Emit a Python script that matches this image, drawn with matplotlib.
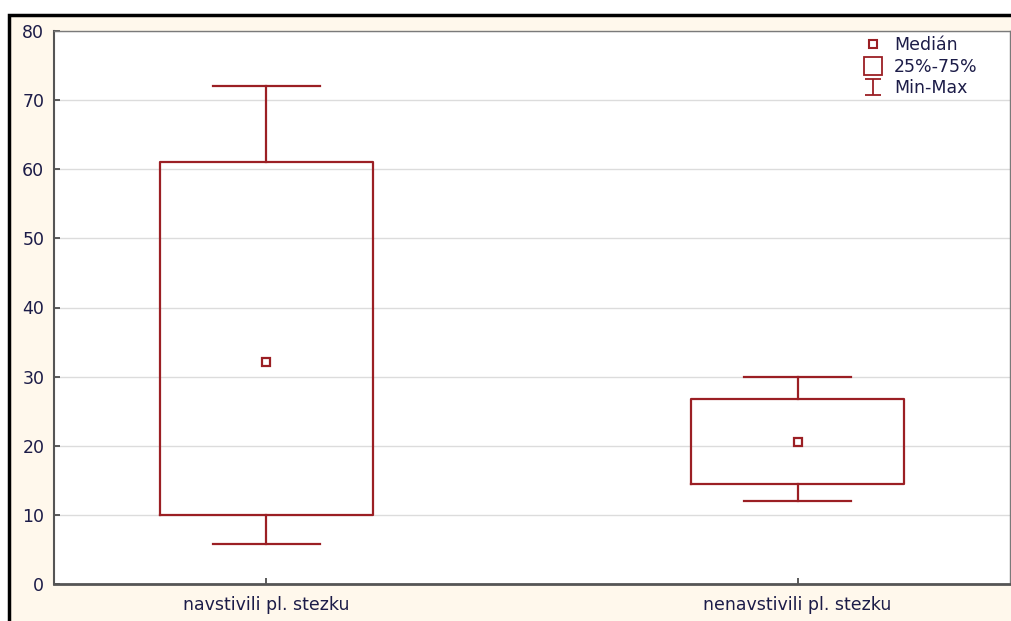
import matplotlib.pyplot as plt
from matplotlib.lines import Line2D
from matplotlib.patches import Rectangle
from matplotlib.path import Path

plt.rcParams['font.family'] = ['DejaVu Sans']

# box plot data (median, quartiles, min/max)
groups = ['navstivili pl. stezku', 'nenavstivili pl. stezku']
medians = [32.1, 20.5]
q25 = [10, 14.5]
q75 = [61, 26.8]
mins = [5.8, 12]
maxs = [72, 30]

box_color = '#9b1f24'
text_color = '#1c1c48'
back_color = '#fff8ec'

fig = plt.figure(figsize=(10.11, 6.21), dpi=100, facecolor='white')

# cream panel with a black frame on the top/left
panel = Rectangle((8.5 / 1011, -0.05), 1.1, (621 - 14.5) / 621 + 0.05,
                  transform=fig.transFigure, facecolor=back_color,
                  edgecolor='black', linewidth=2.5, zorder=-10)
fig.patches.append(panel)

ax = fig.add_axes([54 / 1011, 37 / 621, (1010 - 54) / 1011, (584 - 31) / 621])
ax.set_facecolor('white')

stats = []
for i in range(len(groups)):
    stats.append({'med': medians[i], 'q1': q25[i], 'q3': q75[i],
                  'whislo': mins[i], 'whishi': maxs[i], 'label': groups[i]})

positions = list(range(1, len(groups) + 1))
ax.bxp(stats, positions=positions, widths=0.4, capwidths=0.2,
       boxprops=dict(color=box_color, linewidth=1.6),
       whiskerprops=dict(color=box_color, linewidth=1.6),
       capprops=dict(color=box_color, linewidth=1.6),
       medianprops=dict(linewidth=0), showfliers=False, zorder=3)
ax.plot(positions, medians, linestyle='none', marker='s', markersize=6,
        markerfacecolor='white', markeredgecolor=box_color,
        markeredgewidth=1.6, zorder=4)

ax.set_xlim(0.6, 2.4)
ax.set_ylim(0, 80)
ax.set_yticks(range(0, 81, 10))
ax.set_xticks(positions)
ax.set_xticklabels(groups)
ax.yaxis.grid(True, color='#dcdcdc', linewidth=1)
ax.set_axisbelow(True)
ax.tick_params(direction='in', length=4, width=1.2, colors='#404040',
               labelcolor=text_color, labelsize=12.5)
ax.tick_params(axis='y', pad=7)
ax.tick_params(axis='x', pad=9)

for side in ['top', 'right', 'left']:
    ax.spines[side].set_color('#7a7a7a')
    ax.spines[side].set_linewidth(1)
ax.spines['left'].set_linewidth(1.5)
ax.spines['left'].set_color('#555555')
ax.spines['bottom'].set_color('#555555')
ax.spines['bottom'].set_linewidth(2)

# I-beam marker for the min-max legend entry
ibeam = Path([(-1, 1), (1, 1), (0, 1), (0, -1), (-1, -1), (1, -1)],
             [Path.MOVETO, Path.LINETO, Path.MOVETO, Path.LINETO,
              Path.MOVETO, Path.LINETO])

handles = [
    Line2D([], [], linestyle='none', marker='s', markersize=6,
           markerfacecolor='white', markeredgecolor=box_color, markeredgewidth=1.5),
    Line2D([], [], linestyle='none', marker='s', markersize=13,
           markerfacecolor='white', markeredgecolor=box_color, markeredgewidth=1.3),
    Line2D([], [], linestyle='none', marker=ibeam, markersize=12,
           markerfacecolor='none', markeredgecolor=box_color, markeredgewidth=1.3),
]
leg = ax.legend(handles, ['Medián', '25%-75%', 'Min-Max'], loc='upper right',
                bbox_to_anchor=(0.975, 1.006), frameon=False, fontsize=12.5,
                handlelength=1.0, handletextpad=0.7, labelspacing=0.2,
                borderaxespad=0.3, borderpad=0.2)
for t in leg.get_texts():
    t.set_color(text_color)

fig.savefig('out.png', dpi=100, facecolor=fig.get_facecolor())
